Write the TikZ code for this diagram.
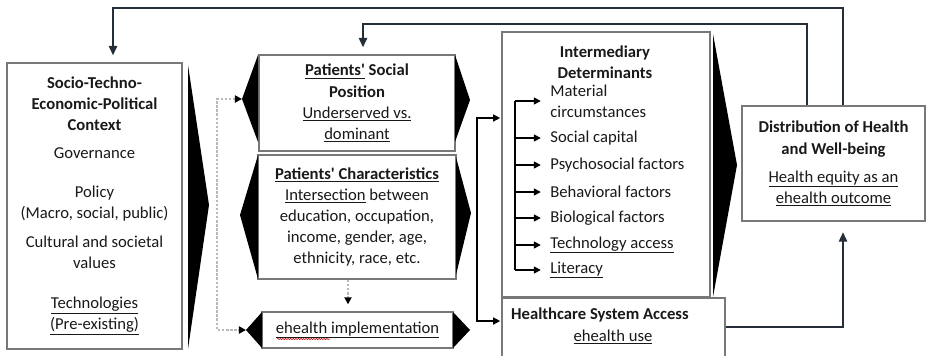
\documentclass[tikz,border=0pt]{standalone}
\usepackage{fontspec}
\setmainfont{Carlito}
\usepackage{tikz}
\usetikzlibrary{positioning}
\usetikzlibrary{arrows.meta}
\usetikzlibrary{decorations.pathmorphing}

\definecolor{boxgray}{RGB}{120,120,120}
\definecolor{fbline}{RGB}{38,46,58}
\definecolor{txtgray}{RGB}{25,25,25}

\tikzset{
  box/.style={draw=boxgray, line width=1.1pt, fill=white, align=center, text=txtgray, inner sep=2pt},
  item/.style={anchor=west, align=left, text=txtgray, inner sep=1pt},
  fb/.style={draw=fbline, line width=1.5pt, -{Triangle[length=8pt,width=7pt]}, shorten >=6pt},
  brk/.style={line width=1.2pt},
  dotl/.style={draw=gray!55, line width=2.4pt, dash pattern=on 2.2pt off 1.3pt},
}

\begin{document}
\begin{tikzpicture}[x=0.03cm, y=-0.03cm, font=\fontsize{14.2}{18}\selectfont]
		\useasboundingbox (0,0) rectangle (927,355);
		\clip (0,0) rectangle (927,355);
		% boxes
		\node[box, minimum width=5.25cm, minimum height=8.58cm] (ctx) at (94.5,206)
			{\textbf{Socio-Techno-}\\\textbf{Economic-Political}\\\textbf{Context}\\[6pt]
			 Governance\\[15pt]Policy\\(Macro, social, public)\\[7pt]Cultural and societal\\values\\[16pt]
			 \underline{Technologies}\\\underline{(Pre-existing)}};
		\node[box, minimum width=5.88cm, minimum height=2.88cm] (pos) at (357,103)
			{\textbf{\underline{Patients\textquotesingle} Social}\\\textbf{Position}\\\underline{Underserved vs.}\\\underline{dominant}};
		\node[box, minimum width=5.94cm, minimum height=3.72cm] (chr) at (357,217)
			{\textbf{\underline{Patients\textquotesingle\ Characteristics}}\\\underline{Intersection} between\\education, occupation,\\income, gender, age,\\ethnicity, race, etc.};
		\node[box, minimum width=5.73cm, minimum height=1.08cm] (ehi) at (357.5,330)
			{\underline{ehealth implementation}};
		\node[box, minimum width=6.24cm, minimum height=7.95cm] (int) at (606,164.5) {};
		\node[box, minimum width=6.69cm, minimum height=2.46cm] (hsa) at (613.5,339) {};
		\node[box, minimum width=5.49cm, minimum height=3.45cm] (dist) at (833.5,163.5)
			{\textbf{Distribution of Health}\\\textbf{and Well-being}\\[6pt]\underline{Health equity as an}\\\underline{ehealth outcome}};
		\node[align=center, text=txtgray] (int-t) at (605,62) {\textbf{Intermediary}\\\textbf{Determinants}};
		\node[text=txtgray] (hsa-t) at (600,315) {\textbf{Healthcare System Access}};
		\node[text=txtgray] (hsa-s) at (613,337) {\underline{ehealth use}};
		% determinants
		\foreach \n/\y/\t in {1/101/{Material\\circumstances}, 2/138/{Social capital},
			3/165/{Psychosocial factors}, 4/192/{Behavioral factors}, 5/218/{Biological factors},
			6/245/{\underline{Technology access}}, 7/270/{\underline{Literacy}}}
			\node[item] (im\n) at (549,\y) {\t};
		\coordinate (bk) at (515,99);
		\draw[brk] (bk |- im1.west) -- (bk |- im7.west);
		\foreach \n in {1,...,7}
			\draw[brk, -{Triangle[length=6pt,width=6pt]}, shorten >=7pt] (bk |- im\n.west) -- (im\n.west);
		% chevrons
		\fill (188,65) -- (188,349) -- (209,205) -- cycle;
		\coordinate (posL) at (242,99);
		\fill (258,55) -- (258,142) -- (posL) -- cycle;
		\fill (455,55) -- (455,142) -- (470,100) -- cycle;
		\fill (258,155) -- (258,279) -- (240,215) -- cycle;
		\fill (456,157) -- (456,275) -- (471,213) -- cycle;
		\coordinate (ehiL) at (246,330);
		\fill (262,312) -- (262,348) -- (ehiL) -- cycle;
		\fill (453,312) -- (453,348) -- (470,330) -- cycle;
		\fill (713,34) -- (713,297) -- (737,165) -- cycle;
		% feedback
		\coordinate (fbA) at (843,8);
		\coordinate (fbB) at (113,8);
		\draw[fb] (dist.north -| fbA) -- (fbA) -- (fbB) -- (fbB |- ctx.north);
		\coordinate (fbC) at (807,24);
		\coordinate (fbD) at (363,24);
		\draw[fb] (dist.north -| fbC) -- (fbC) -- (fbD) -- (fbD |- pos.north);
		\coordinate (hd) at (843,327);
		\draw[fb, shorten >=9pt] (hsa.east |- hd) -- (hd) -- (hd |- dist.south);
		% dotted
		\coordinate (dl) at (217,0);
		\draw[dotl, {Triangle[length=6pt,width=6pt,black]}-{Triangle[length=6pt,width=6pt,black]}]
			(posL) -- (dl |- posL) -- (dl |- ehiL) -- (ehiL);
		\draw[dotl, -{Triangle[length=6pt,width=6pt,black]}, shorten >=6pt]
			([xshift=-0.27cm]chr.south) -- ([xshift=-0.27cm]chr.south |- ehi.north);
		% to intermediary / healthcare
		\coordinate (ja) at (477,118);
		\coordinate (jb) at (477,321);
		\draw[brk, {Triangle[length=6pt,width=6pt]}-{Triangle[length=6pt,width=6pt]}, shorten <=1pt, shorten >=1pt]
			(int.west |- ja) -- (ja) -- (jb) -- (hsa.west |- jb);
		\draw[red!80!black, line width=0.5pt, decorate, decoration={snake, amplitude=0.5pt, segment length=2.2pt}]
			(277,339) -- (330,339);
\end{tikzpicture}
\end{document}
